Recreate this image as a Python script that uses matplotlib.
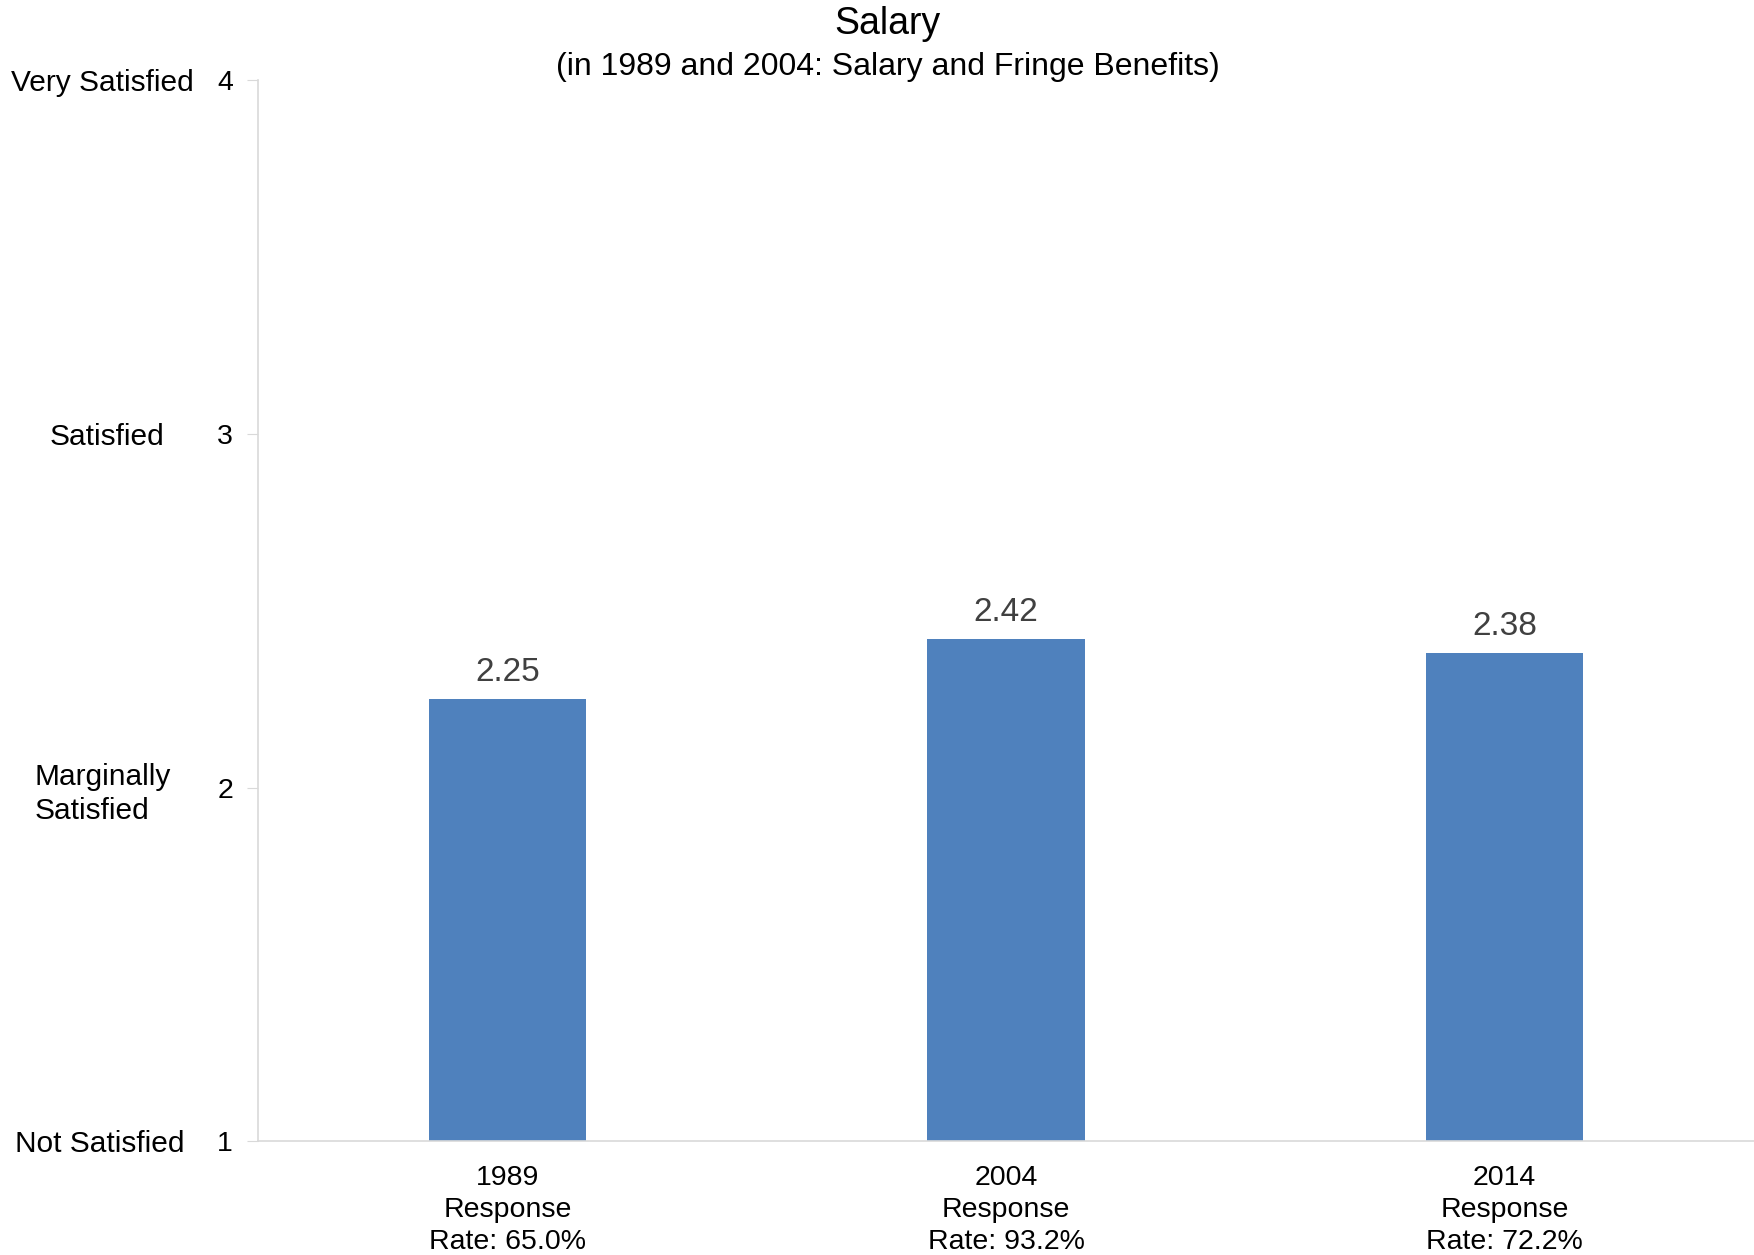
import matplotlib.pyplot as plt
import matplotlib.transforms as mtransforms

plt.rcParams['font.family'] = ['Liberation Sans', 'DejaVu Sans']

# dados
anos = ['1989', '2004', '2014']
taxas = ['65.0%', '93.2%', '72.2%']
medias = [2.25, 2.42, 2.38]
niveis = [1, 2, 3, 4]
nomes_niveis = ['Not Satisfied', 'Marginally\nSatisfied', 'Satisfied', 'Very Satisfied']

rotulos_x = [f'{a}\nResponse\nRate: {t}' for a, t in zip(anos, taxas)]

fig = plt.figure(figsize=(17.54, 12.55), dpi=100)
ax = fig.add_axes([0.1471, 0.0908, 0.8529, 0.8451])

x = list(range(len(anos)))
# barras começam no 1 (Not Satisfied)
ax.bar(x, [m - 1 for m in medias], bottom=1, width=0.316, color='#4f81bd')

for xi, m in zip(x, medias):
    ax.annotate(f'{m:.2f}', (xi, m), xytext=(0, 8), textcoords='offset points',
                ha='center', va='bottom', fontsize=24, color='#404040')

ax.set_xlim(-0.5, 2.5)
ax.set_ylim(1, 4)
ax.set_yticks(niveis)
ax.set_yticklabels([str(n) for n in niveis], fontsize=20.5)
ax.set_xticks(x)
ax.set_xticklabels(rotulos_x, fontsize=20.5, linespacing=1.3)
ax.tick_params(axis='x', length=0, pad=17)
ax.tick_params(axis='y', length=8, color='#d9d9d9', pad=10)

for lado in ['top', 'right']:
    ax.spines[lado].set_visible(False)
ax.spines['left'].set_color('#d9d9d9')
ax.spines['bottom'].set_color('#d9d9d9')
ax.spines['left'].set_linewidth(1.2)
ax.spines['bottom'].set_linewidth(1.2)

# nomes das categorias do eixo y (centro horizontal de cada rótulo)
centros_x = [0.0570, 0.0584, 0.0609, 0.0581]
trans = mtransforms.blended_transform_factory(fig.transFigure, ax.transData)
for n, nome, cx in zip(niveis, nomes_niveis, centros_x):
    fig.text(cx, n, nome, transform=trans, ha='center', va='center_baseline',
             multialignment='left', fontsize=21.5, linespacing=1.3)

fig.text(0.506, 0.981, 'Salary', ha='center', va='center', fontsize=27)
fig.text(0.506, 0.947, '(in 1989 and 2004: Salary and Fringe Benefits)',
         ha='center', va='center', fontsize=23)

fig.savefig('out.png', dpi=100)
